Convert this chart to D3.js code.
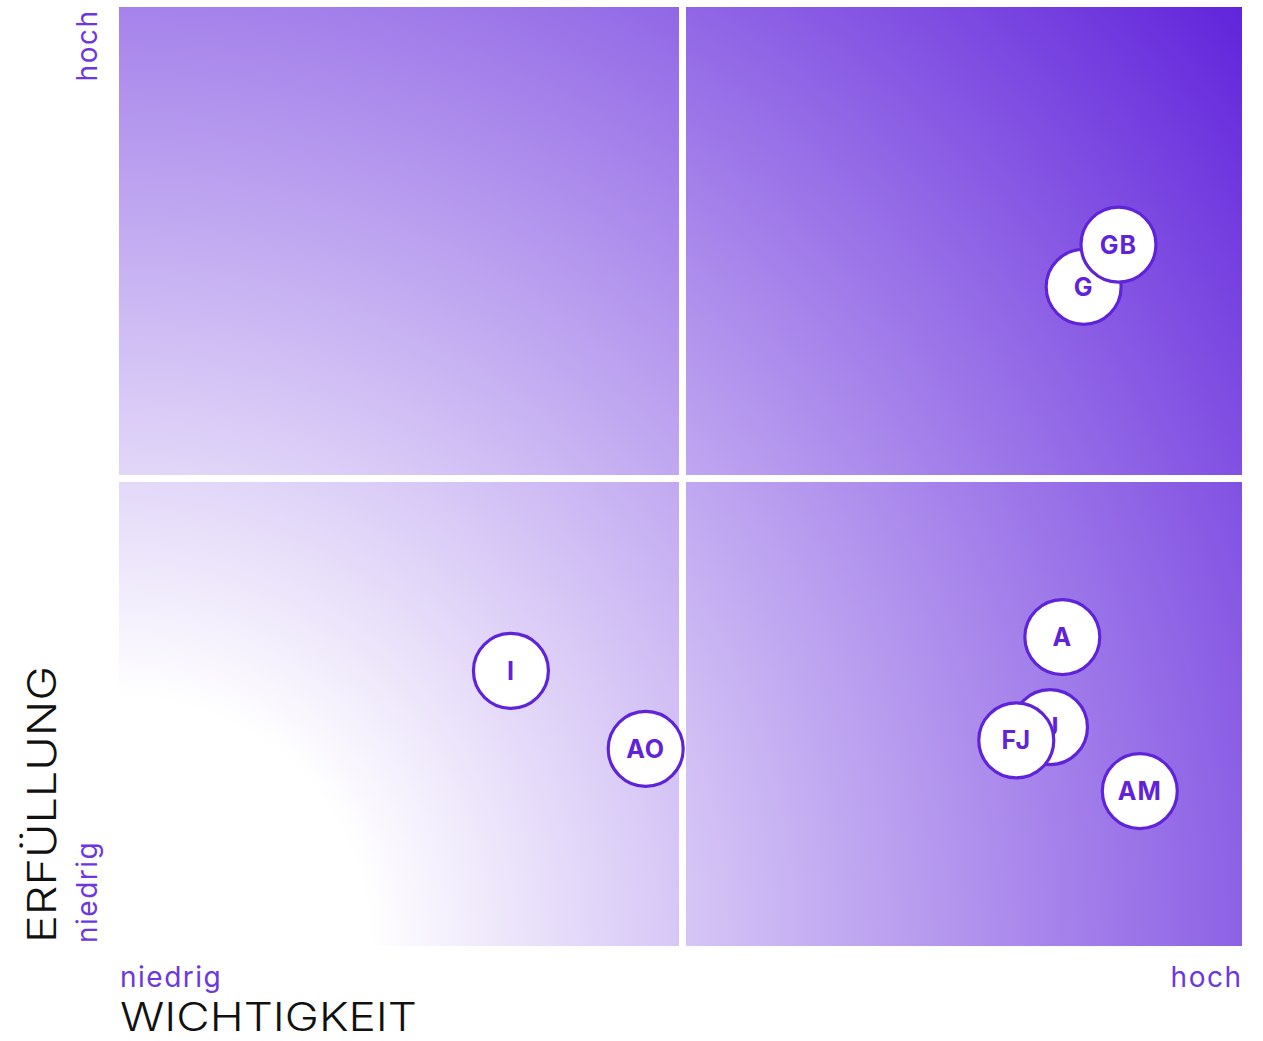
<!DOCTYPE html>
<html>
<head>
<meta charset="utf-8">
<script src="https://cdn.jsdelivr.net/npm/d3@7"></script>
<style>
  html, body { margin: 0; padding: 0; background: #fff; }
  svg { display: block; font-family: Inter, "Noto Sans", sans-serif; }
</style>
</head>
<body>
<svg id="chart" width="1263" height="1041"></svg>
<script>
// Topics placed by importance (x) and fulfilment (y), scale 0–10
const codes      = ["G", "GB", "A", "U", "FJ", "AM", "I", "AO"];
const importance = [8.59, 8.90, 8.40, 8.29, 7.99, 9.09, 3.49, 4.69];
const fulfilment = [7.02, 7.47, 3.29, 2.33, 2.19, 1.65, 2.93, 2.10];

const axisEnds   = ["niedrig", "hoch"];
const xTitle     = "WICHTIGKEIT";
const yTitle     = "ERFÜLLUNG";
const domain     = [0, 10];
const midpoint   = 5;

const purple = "#5f24d9";
const labelPurple = "#6b38e0";

const svg = d3.select("#chart");
const plotLeft = 119, plotRight = 1242, plotTop = 7, plotBottom = 946;
const x = d3.scaleLinear().domain(domain).range([plotLeft, plotRight]);
const y = d3.scaleLinear().domain(domain).range([plotBottom, plotTop]);
const gap = 7;
const shiftX = 2, shiftY = 2;   // divider offset from the exact midpoint

// Background gradient fanning out from the low/low corner
const defs = svg.append("defs");
const R = Math.hypot(plotRight - plotLeft, plotBottom - plotTop);
const grad = defs.append("radialGradient")
  .attr("id", "bg")
  .attr("gradientUnits", "userSpaceOnUse")
  .attr("cx", x(domain[0])).attr("cy", y(domain[0]))
  .attr("r", R);
grad.append("stop").attr("offset", 0).attr("stop-color", "#ffffff");
grad.append("stop").attr("offset", 0.17).attr("stop-color", "#ffffff");
grad.append("stop").attr("offset", 1).attr("stop-color", "#6124db");

svg.append("rect")
  .attr("x", x(domain[0])).attr("y", y(domain[1]))
  .attr("width", x(domain[1]) - x(domain[0]))
  .attr("height", y(domain[0]) - y(domain[1]))
  .attr("fill", "url(#bg)");

// White cross separating the four quadrants
svg.append("rect")
  .attr("x", x(midpoint) + shiftX - gap / 2).attr("y", y(domain[1]))
  .attr("width", gap).attr("height", y(domain[0]) - y(domain[1]))
  .attr("fill", "#fff");
svg.append("rect")
  .attr("x", x(domain[0])).attr("y", y(midpoint) + shiftY - gap / 2)
  .attr("width", x(domain[1]) - x(domain[0])).attr("height", gap)
  .attr("fill", "#fff");

// Axis end labels
const endStyle = s => s.attr("fill", labelPurple).attr("font-size", 28)
  .attr("font-weight", 400).attr("letter-spacing", 1.5);

svg.append("text").text(axisEnds[0])
  .attr("x", x(domain[0]) + 1).attr("y", 987)
  .call(endStyle);
svg.append("text").text(axisEnds[1])
  .attr("x", x(domain[1]) + 0.5).attr("y", 987)
  .attr("text-anchor", "end")
  .call(endStyle);

svg.append("text").text(axisEnds[0])
  .attr("transform", `translate(97,${y(domain[0]) - 3}) rotate(-90)`)
  .call(endStyle);
svg.append("text").text(axisEnds[1])
  .attr("transform", `translate(97,${y(domain[1]) + 2.5}) rotate(-90)`)
  .attr("text-anchor", "end")
  .call(endStyle);

// Axis titles
svg.append("text").text(xTitle)
  .attr("x", x(domain[0]) + 1).attr("y", 1031)
  .attr("font-size", 39).attr("font-weight", 300).attr("fill", "#111")
  .attr("textLength", 297).attr("lengthAdjust", "spacingAndGlyphs");
svg.append("text").text(yTitle)
  .attr("transform", `translate(56,${y(domain[0]) - 3}) rotate(-90)`)
  .attr("font-size", 40).attr("font-weight", 300).attr("fill", "#111")
  .attr("textLength", 277).attr("lengthAdjust", "spacingAndGlyphs");

// Topic markers
const points = codes.map((c, i) => ({ code: c, x: importance[i], y: fulfilment[i] }));
const g = svg.append("g").selectAll("g").data(points).join("g")
  .attr("transform", d => `translate(${x(d.x)},${y(d.y)})`);
g.append("circle")
  .attr("r", 37.5)
  .attr("fill", "#fff")
  .attr("stroke", purple)
  .attr("stroke-width", 3.2);
g.append("text")
  .text(d => d.code)
  .attr("text-anchor", "middle")
  .attr("dy", "0.36em")
  .attr("font-size", 25)
  .attr("font-weight", 700)
  .attr("letter-spacing", 1)
  .attr("fill", purple);
</script>
</body>
</html>
